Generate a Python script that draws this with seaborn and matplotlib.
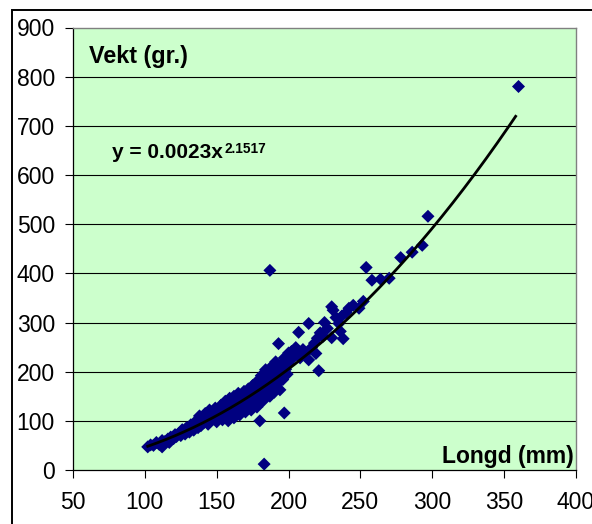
import matplotlib
matplotlib.use("Agg")
import matplotlib.pyplot as plt
from matplotlib.patches import Rectangle
import numpy as np
import pandas as pd
import seaborn as sns

# ---- data ----
lengd = [102, 104, 106, 108, 110, 112, 112, 114, 116, 117, 118, 120, 121, 122, 124, 125, 126, 127, 128, 129,
         130, 131, 132, 133, 134, 135, 136, 137, 138, 138, 139, 140, 141, 142, 143, 144, 145, 145, 146, 147,
         148, 149, 150, 150, 151, 152, 153, 153, 154, 155, 156, 156, 157, 158, 158, 159, 160, 160, 161, 162,
         162, 163, 164, 164, 165, 166, 166, 167, 168, 169, 169, 170, 171, 172, 172, 173, 174, 175, 175, 176,
         177, 178, 178, 179, 180, 180, 181, 181, 182, 183, 183, 184, 184, 185, 186, 186, 187, 188, 188, 189,
         190, 190, 191, 191, 192, 193, 193, 194, 195, 195, 196, 197, 197, 198, 199, 200, 200, 202, 202, 204,
         205, 206, 207, 208, 210, 212, 214, 214, 216, 218, 219, 220, 221, 222, 224, 225, 227, 230, 230, 231,
         233, 235, 236, 237, 238, 240, 242, 245, 249, 252, 254, 258, 264, 270, 278, 286, 293, 297, 360, 183,
         187]
vekt = [47, 51, 50, 56, 52, 47, 60, 58, 63, 56, 67, 64, 72, 68, 75, 70, 82, 76, 73, 86,
        80, 77, 92, 85, 81, 98, 90, 86, 110, 95, 90, 104, 96, 115, 100, 93, 108, 122, 100, 112,
        104, 126, 115, 98, 120, 108, 132, 114, 102, 125, 140, 110, 120, 132, 100, 146, 125, 113, 138, 150,
        106, 128, 118, 142, 156, 132, 112, 145, 126, 160, 138, 118, 150, 130, 165, 142, 122, 172, 155, 138,
        148, 180, 128, 162, 150, 100, 192, 170, 140, 182, 160, 204, 148, 175, 192, 165, 150, 210, 182, 170,
        198, 158, 220, 185, 175, 257, 205, 163, 215, 190, 184, 116, 228, 205, 195, 238, 215, 241, 225, 232,
        249, 240, 280, 228, 245, 238, 298, 224, 249, 258, 237, 268, 202, 279, 272, 300, 288, 269, 332, 325,
        310, 298, 282, 313, 267, 320, 329, 335, 329, 343, 412, 386, 388, 390, 432, 443, 457, 516, 780, 12,
        406]

# power trendline reported on the chart: y = 0.0023 x^2.1517
trend_a = 0.0023
trend_b = 2.1517
trend_range = [102, 358]

x_ticks = [50, 100, 150, 200, 250, 300, 350, 400]
y_ticks = [0, 100, 200, 300, 400, 500, 600, 700, 800, 900]

df = pd.DataFrame({"Longd": lengd, "Vekt": vekt})
tx = np.linspace(trend_range[0], trend_range[1], 200)
tdf = pd.DataFrame({"Longd": tx, "Vekt": trend_a * tx ** trend_b})

plt.rcParams["font.family"] = ["Liberation Sans", "DejaVu Sans"]

W, H = 592, 524
fig = plt.figure(figsize=(W / 100, H / 100), dpi=100)
fig.patch.set_facecolor("white")
ax = fig.add_axes([73 / W, (H - 470) / H, (576 - 73) / W, (470 - 27.5) / H])
ax.set_facecolor("#CCFFCC")

for yv in y_ticks[1:-1]:
    ax.axhline(yv, color="black", lw=0.8, zorder=1)

sns.scatterplot(data=df, x="Longd", y="Vekt", ax=ax, marker="D", s=44,
                color="#000080", edgecolor="none", linewidth=0, zorder=3, legend=False)
sns.lineplot(data=tdf, x="Longd", y="Vekt", ax=ax, color="black", lw=2.0, zorder=4, legend=False)

ax.set_xlim(50, 400)
ax.set_ylim(0, 900)
ax.set_xticks(x_ticks)
ax.set_yticks(y_ticks)
ax.set_xlabel("")
ax.set_ylabel("")
ax.tick_params(direction="out", length=6, width=0.8, colors="black", labelsize=16.5)
ax.tick_params(axis="x", pad=9)
ax.tick_params(axis="y", pad=7)

for side in ["left", "bottom"]:
    ax.spines[side].set_color("black")
    ax.spines[side].set_linewidth(0.9)
for side in ["top", "right"]:
    ax.spines[side].set_color("#808080")
    ax.spines[side].set_linewidth(1.0)

ax.text(61, 828, "Vekt (gr.)", fontsize=16.8, fontweight="bold", ha="left", va="baseline", zorder=5)
ax.text(398.6, 14, "Longd (mm)", fontsize=16.5, fontweight="bold", ha="right", va="baseline", zorder=5)
eq = ax.text(77, 635, "y = 0.0023x", fontsize=15, fontweight="bold", ha="left", va="baseline", zorder=5)
ax.annotate("2.1517", xy=(1, 0), xycoords=eq, xytext=(1, 6.5), textcoords="offset points",
            fontsize=9.8, fontweight="bold", ha="left", va="baseline", zorder=5)

fig.add_artist(Rectangle((12 / W, -0.2), 1.5, (H - 10) / H + 0.2, transform=fig.transFigure,
                         fill=False, edgecolor="black", lw=1.4))

fig.savefig("out.png", dpi=100)
